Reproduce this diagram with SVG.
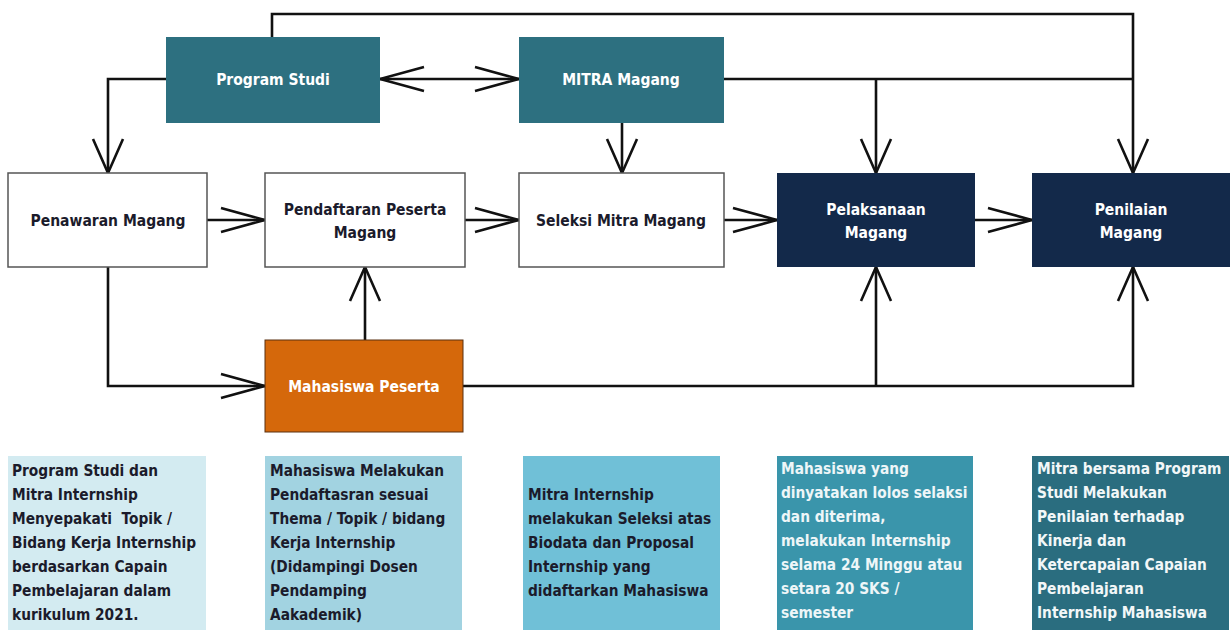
<svg xmlns="http://www.w3.org/2000/svg" width="1231" height="630" viewBox="0 0 1231 630">
<style>
text{font-family:"DejaVu Sans Condensed","DejaVu Sans",sans-serif;font-stretch:condensed;font-weight:bold}
.nl{font-size:15.5px;text-anchor:middle}
.w{fill:#ffffff}
.d{fill:#1b1b2b}
.bt{font-size:15.3px}
.wb{fill:#ffffff;stroke:#555555;stroke-width:1.5}
.teal{fill:#2D7080}
.navy{fill:#13294A}
.c{fill:none;stroke:#111111;stroke-width:2.6}
</style>
<defs>
<marker id="ah" viewBox="-46 -14 48 28" refX="0" refY="0" markerWidth="48" markerHeight="28" markerUnits="userSpaceOnUse" orient="auto-start-reverse">
<path d="M-44,-12 L0,0 L-44,12" fill="none" stroke="#111111" stroke-width="2.6"/>
</marker>
<marker id="av" viewBox="-36 -17 38 34" refX="0" refY="0" markerWidth="38" markerHeight="34" markerUnits="userSpaceOnUse" orient="auto">
<path d="M-34,-15 L0,0 L-34,15" fill="none" stroke="#111111" stroke-width="2.6"/>
</marker>
</defs>
<rect width="1231" height="630" fill="#ffffff"/>
<g id="connectors">
<path class="c" d="M272,37 V14 H1133 V173" marker-end="url(#av)"/>
<path class="c" d="M724,79 H1133"/>
<path class="c" d="M876,79 V173" marker-end="url(#av)"/>
<path class="c" d="M622,123 V173" marker-end="url(#av)"/>
<path class="c" d="M166,79 H108 V173" marker-end="url(#av)"/>
<path class="c" d="M380,79 H519" marker-start="url(#ah)" marker-end="url(#ah)"/>
<path class="c" d="M207,220 H265" marker-end="url(#ah)"/>
<path class="c" d="M465,220 H519" marker-end="url(#ah)"/>
<path class="c" d="M724,220 H777" marker-end="url(#ah)"/>
<path class="c" d="M975,220 H1032" marker-end="url(#ah)"/>
<path class="c" d="M108,267 V386 H265" marker-end="url(#ah)"/>
<path class="c" d="M365,340 V267" marker-end="url(#av)"/>
<path class="c" d="M463,386 H1133 V267" marker-end="url(#av)"/>
<path class="c" d="M876,386 V267" marker-end="url(#av)"/>
</g>
<g id="program-studi">
<rect class="teal" x="166" y="37" width="214" height="86"/>
<text class="nl w" x="273" y="85">Program Studi</text>
</g>
<g id="mitra-magang">
<rect class="teal" x="519" y="37" width="205" height="86"/>
<text class="nl w" x="621" y="85">MITRA Magang</text>
</g>
<g id="penawaran-magang">
<rect class="wb" x="8" y="173" width="199" height="94"/>
<text class="nl d" x="108" y="226">Penawaran Magang</text>
</g>
<g id="pendaftaran-peserta-magang">
<rect class="wb" x="265" y="173" width="200" height="94"/>
<text class="nl d" x="365" y="215">Pendaftaran Peserta</text>
<text class="nl d" x="365" y="238">Magang</text>
</g>
<g id="seleksi-mitra-magang">
<rect class="wb" x="519" y="173" width="205" height="94"/>
<text class="nl d" x="621" y="226">Seleksi Mitra Magang</text>
</g>
<g id="pelaksanaan-magang">
<rect class="navy" x="777" y="173" width="198" height="94"/>
<text class="nl w" x="876" y="215">Pelaksanaan</text>
<text class="nl w" x="876" y="238">Magang</text>
</g>
<g id="penilaian-magang">
<rect class="navy" x="1032" y="173" width="198" height="94"/>
<text class="nl w" x="1131" y="215">Penilaian</text>
<text class="nl w" x="1131" y="238">Magang</text>
</g>
<g id="mahasiswa-peserta">
<rect x="265" y="340" width="198" height="92" fill="#D5680B" stroke="#5a3010" stroke-width="1"/>
<text class="nl w" x="364" y="392">Mahasiswa Peserta</text>
</g>
<g id="desc-1">
<rect x="8" y="456" width="198" height="174" fill="#D3EBF1"/>
<text class="bt d" x="12" xml:space="preserve"><tspan x="12" y="476">Program Studi dan</tspan><tspan x="12" y="500">Mitra Internship</tspan><tspan x="12" y="524">Menyepakati  Topik /</tspan><tspan x="12" y="548">Bidang Kerja Internship</tspan><tspan x="12" y="572">berdasarkan Capain</tspan><tspan x="12" y="596">Pembelajaran dalam</tspan><tspan x="12" y="620">kurikulum 2021.</tspan></text>
</g>
<g id="desc-2">
<rect x="265" y="456" width="197" height="174" fill="#A2D3E1"/>
<text class="bt d" x="270"><tspan x="270" y="476">Mahasiswa Melakukan</tspan><tspan x="270" y="500">Pendaftasran sesuai</tspan><tspan x="270" y="524">Thema / Topik / bidang</tspan><tspan x="270" y="548">Kerja Internship</tspan><tspan x="270" y="572">(Didampingi Dosen</tspan><tspan x="270" y="596">Pendamping</tspan><tspan x="270" y="620">Aakademik)</tspan></text>
</g>
<g id="desc-3">
<rect x="523" y="456" width="197" height="174" fill="#70C0D7"/>
<text class="bt d" x="528"><tspan x="528" y="500">Mitra Internship</tspan><tspan x="528" y="524">melakukan Seleksi atas</tspan><tspan x="528" y="548">Biodata dan Proposal</tspan><tspan x="528" y="572">Internship yang</tspan><tspan x="528" y="596">didaftarkan Mahasiswa</tspan></text>
</g>
<g id="desc-4">
<rect x="777" y="456" width="196" height="174" fill="#3A95AB"/>
<text class="bt" fill="#EEF6F8" x="781"><tspan x="781" y="474">Mahasiswa yang</tspan><tspan x="781" y="498">dinyatakan lolos selaksi</tspan><tspan x="781" y="522">dan diterima,</tspan><tspan x="781" y="546">melakukan Internship</tspan><tspan x="781" y="570">selama 24 Minggu atau</tspan><tspan x="781" y="594">setara 20 SKS /</tspan><tspan x="781" y="618">semester</tspan></text>
</g>
<g id="desc-5">
<rect x="1032" y="456" width="197" height="174" fill="#2A6D7F"/>
<text class="bt" fill="#F2F7F8" x="1037"><tspan x="1037" y="474">Mitra bersama Program</tspan><tspan x="1037" y="498">Studi Melakukan</tspan><tspan x="1037" y="522">Penilaian terhadap</tspan><tspan x="1037" y="546">Kinerja dan</tspan><tspan x="1037" y="570">Ketercapaian Capaian</tspan><tspan x="1037" y="594">Pembelajaran</tspan><tspan x="1037" y="618">Internship Mahasiswa</tspan></text>
</g>
</svg>
